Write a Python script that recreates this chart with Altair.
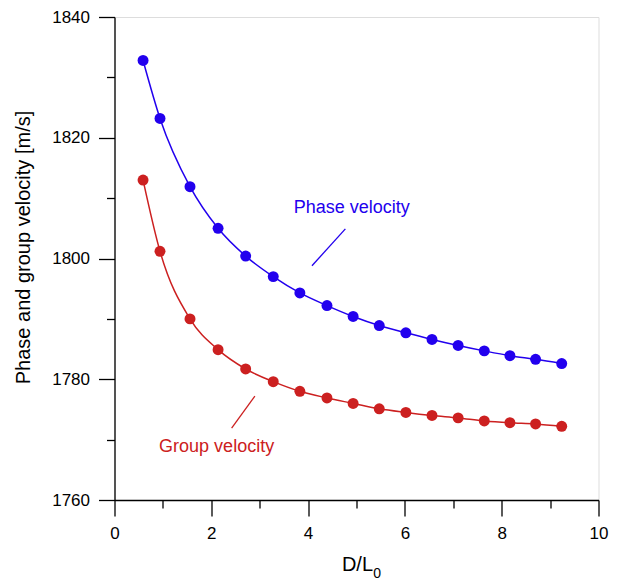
import altair as alt
import pandas as pd

# D/L0 values (shared by both series)
x_vals = [0.59, 0.94, 1.56, 2.14, 2.71, 3.28, 3.83, 4.39, 4.93, 5.47, 6.02, 6.56, 7.10, 7.64, 8.17, 8.70, 9.24]
phase_vel = [1832.8, 1823.2, 1811.9, 1805.0, 1800.4, 1797.0, 1794.3, 1792.2, 1790.4, 1788.9,
             1787.7, 1786.6, 1785.6, 1784.7, 1783.9, 1783.3, 1782.6]
group_vel = [1813.0, 1801.2, 1790.0, 1784.9, 1781.7, 1779.6, 1778.0, 1776.9, 1776.0, 1775.1,
             1774.5, 1774.0, 1773.6, 1773.1, 1772.8, 1772.6, 1772.2]

x_ticks = list(range(0, 11))
y_ticks = list(range(1760, 1841, 10))

# annotations
ann_labels = ["Phase velocity", "Group velocity"]
ann_x = [4.90, 2.11]
ann_y = [1808.4, 1768.7]
lead_x = [4.77, 2.90]
lead_y = [1804.9, 1777.2]
lead_x2 = [4.08, 2.42]
lead_y2 = [1798.8, 1771.9]

BLUE = "#2200EE"
RED = "#CC2020"
FONT = "Liberation Sans"

phase_df = pd.DataFrame({"x": x_vals, "v": phase_vel})
group_df = pd.DataFrame({"x": x_vals, "v": group_vel})

x_axis = alt.Axis(
    values=x_ticks,
    labelExpr="datum.value % 2 === 0 ? datum.label : ''",
    tickSize={"condition": {"test": "datum.value % 2 === 0", "value": 16}, "value": 8},
    title=None,
    grid=False,
    domainColor="black",
    tickColor="black",
    domainWidth=1.3,
    tickWidth=1.3,
    labelFontSize=17,
    labelFont=FONT,
    labelColor="black",
    labelPadding=9,
    labelFlush=False,
)
y_axis = alt.Axis(
    values=y_ticks,
    labelExpr="datum.value % 20 === 0 ? datum.label : ''",
    tickSize={"condition": {"test": "datum.value % 20 === 0", "value": 16}, "value": 8},
    title="Phase and group velocity [m/s]",
    titleFontSize=20,
    titleFont=FONT,
    titleFontWeight="normal",
    titleColor="black",
    titleX=-85,
    titleY=230,
    titleAngle=-90,
    titleAlign="center",
    titleBaseline="alphabetic",
    grid=False,
    domainColor="black",
    tickColor="black",
    domainWidth=1.3,
    tickWidth=1.3,
    labelFontSize=17,
    labelFont=FONT,
    labelColor="black",
    labelPadding=9,
    labelFlush=False,
    format="d",
)

xs = alt.Scale(domain=[0, 10], nice=False, zero=False)
ys = alt.Scale(domain=[1760, 1840], nice=False, zero=False)


def series(df, color):
    base = alt.Chart(df).encode(
        x=alt.X("x:Q", scale=xs, axis=x_axis),
        y=alt.Y("v:Q", scale=ys, axis=y_axis),
    )
    line = base.mark_line(color=color, strokeWidth=1.5, interpolate="monotone")
    pts = base.mark_circle(color=color, size=120, opacity=1)
    return line + pts


ann_df = pd.DataFrame({
    "label": ann_labels, "x": ann_x, "y": ann_y,
    "lx": lead_x, "ly": lead_y, "lx2": lead_x2, "ly2": lead_y2,
})
color_scale = alt.Scale(domain=ann_labels, range=[BLUE, RED])

ann_text = alt.Chart(ann_df).mark_text(fontSize=18, font=FONT, align="center", baseline="middle").encode(
    x=alt.X("x:Q", scale=xs, axis=x_axis),
    y=alt.Y("y:Q", scale=ys, axis=y_axis),
    text="label:N",
    color=alt.Color("label:N", scale=color_scale, legend=None),
)
ann_rule = alt.Chart(ann_df).mark_rule(strokeWidth=1.3).encode(
    x=alt.X("lx:Q", scale=xs, axis=x_axis),
    y=alt.Y("ly:Q", scale=ys, axis=y_axis),
    x2="lx2:Q",
    y2="ly2:Q",
    color=alt.Color("label:N", scale=color_scale, legend=None),
)

xt_main = alt.Chart(pd.DataFrame({"t": ["D/L"]})).mark_text(
    fontSize=20, font=FONT, align="right", baseline="alphabetic", color="black"
).encode(x=alt.value(258.5), y=alt.value(554), text="t:N")
xt_sub = alt.Chart(pd.DataFrame({"t": ["0"]})).mark_text(
    fontSize=14, font=FONT, align="left", baseline="alphabetic", color="black"
).encode(x=alt.value(258.8), y=alt.value(560.5), text="t:N")

chart = alt.layer(
    series(phase_df, BLUE),
    series(group_df, RED),
    ann_rule,
    ann_text,
    xt_main,
    xt_sub,
).properties(
    width=484,
    height=483,
    autosize=alt.AutoSizeParams(type="none"),
    padding={"left": 106.5, "top": 9, "right": 14, "bottom": 80},
).configure_view(stroke=None).configure(font=FONT)

chart.save("out.html", embed_options={"renderer": "svg", "actions": False})
